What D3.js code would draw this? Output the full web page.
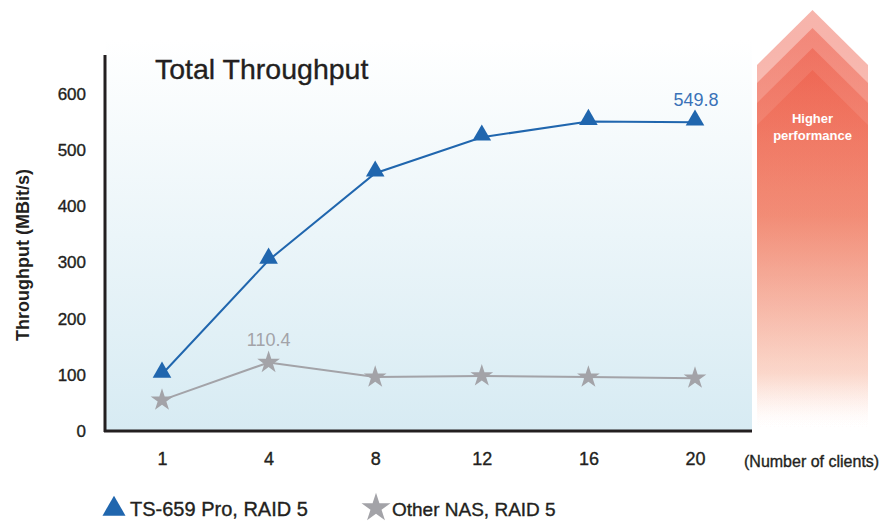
<!DOCTYPE html>
<html lang="en">
<head>
<meta charset="utf-8">
<title>Total Throughput</title>
<script src="https://cdn.jsdelivr.net/npm/d3@7/dist/d3.min.js"></script>
<style>
  body { margin: 0; background: #fff; }
  svg text { font-family: "Liberation Sans", Arial, sans-serif; }
  .heavy { stroke-width: 0.35px; }
</style>
</head>
<body>
<div id="chart"></div>
<script>
// data
var clients = ["1", "4", "8", "12", "16", "20"];
var tsValues = [101, 304, 459, 523, 551, 549.8];
var otherValues = [55, 122, 96, 98, 96, 94];
var yTicks = [0, 100, 200, 300, 400, 500, 600];
var tsPeakLabel = "549.8";
var otherPeakLabel = "110.4";

var width = 883, height = 521;
var ink = "#231f20";
var svg = d3.select("#chart").append("svg")
  .attr("width", width).attr("height", height);

var defs = svg.append("defs");

// plot background gradient
var bg = defs.append("linearGradient").attr("id", "bg")
  .attr("x1", 0).attr("y1", 0).attr("x2", 0).attr("y2", 1);
bg.append("stop").attr("offset", "0%").attr("stop-color", "#ffffff");
bg.append("stop").attr("offset", "100%").attr("stop-color", "#d7ebf3");

// arrow gradient
var ag = defs.append("linearGradient").attr("id", "arrowGrad")
  .attr("gradientUnits", "userSpaceOnUse")
  .attr("x1", 0).attr("y1", 40).attr("x2", 0).attr("y2", 432);
ag.append("stop").attr("offset", "0%").attr("stop-color", "#ec4d38");
ag.append("stop").attr("offset", "45%").attr("stop-color", "#f07e65");
ag.append("stop").attr("offset", "85%").attr("stop-color", "#fad2c4");
ag.append("stop").attr("offset", "100%").attr("stop-color", "#ffffff").attr("stop-opacity", 0);

var x = d3.scalePoint().domain(clients).range([162, 695]);
var y = d3.scaleLinear().domain([0, 600]).range([431, 94]);

// plot area
svg.append("rect")
  .attr("x", 106).attr("y", 40)
  .attr("width", 646).attr("height", 391)
  .attr("fill", "url(#bg)");

// higher performance arrow (stacked chevrons)
var left = 757, right = 868, mid = (left + right) / 2, bottom = 432;
[0, 18, 38, 60].forEach(function (off) {
  var top = 10 + off;
  svg.append("path")
    .attr("d", "M" + left + "," + (top + 55) + "L" + mid + "," + top + "L" + right + "," + (top + 55) +
      "L" + right + "," + bottom + "L" + left + "," + bottom + "Z")
    .attr("fill", "url(#arrowGrad)")
    .attr("opacity", 0.42);
});
svg.append("text").attr("x", mid).attr("y", 123)
  .attr("text-anchor", "middle").attr("fill", "#fff")
  .attr("font-size", 13).attr("font-weight", "bold").text("Higher");
svg.append("text").attr("x", mid).attr("y", 140)
  .attr("text-anchor", "middle").attr("fill", "#fff")
  .attr("font-size", 13).attr("font-weight", "bold").text("performance");

// axes
var yAxis = d3.axisLeft(y).tickValues(yTicks).tickSize(0).tickPadding(20);
var gy = svg.append("g").attr("transform", "translate(106,0)").call(yAxis);
gy.select(".domain").remove();
gy.selectAll("text").attr("font-size", 17).attr("fill", ink)
  .attr("class", "heavy").attr("stroke", ink)
  .style("font-family", "'Liberation Sans', Arial, sans-serif");

var xAxis = d3.axisBottom(x).tickSize(0).tickPadding(21);
var gx = svg.append("g").attr("transform", "translate(0,431)").call(xAxis);
gx.select(".domain").remove();
gx.selectAll("text").attr("font-size", 18).attr("fill", ink)
  .attr("class", "heavy").attr("stroke", ink)
  .style("font-family", "'Liberation Sans', Arial, sans-serif");

svg.append("line").attr("x1", 105).attr("x2", 105).attr("y1", 55).attr("y2", 432)
  .attr("stroke", ink).attr("stroke-width", 3);
svg.append("line").attr("x1", 104).attr("x2", 752).attr("y1", 431).attr("y2", 431)
  .attr("stroke", ink).attr("stroke-width", 3);

// titles
svg.append("text").attr("x", 155).attr("y", 79)
  .attr("font-size", 28.5).attr("fill", ink).attr("class", "heavy").attr("stroke", ink)
  .text("Total Throughput");
svg.append("text")
  .attr("transform", "translate(29,255) rotate(-90)")
  .attr("text-anchor", "middle").attr("font-size", 18).attr("font-weight", "bold")
  .attr("fill", ink).text("Throughput (MBit/s)");
svg.append("text").attr("x", 744).attr("y", 467)
  .attr("font-size", 16).attr("fill", ink).attr("class", "heavy").attr("stroke", ink)
  .text("(Number of clients)");

// series
var line = d3.line().x(function (d, i) { return x(clients[i]); }).y(function (d) { return y(d); });
var blue = "#2066ae", gray = "#a3a3a8";

svg.append("path").datum(otherValues).attr("d", line)
  .attr("fill", "none").attr("stroke", gray).attr("stroke-width", 2);
svg.append("path").datum(tsValues).attr("d", line)
  .attr("fill", "none").attr("stroke", blue).attr("stroke-width", 2);

var tri = d3.symbol().type(d3.symbolTriangle).size(150);
var star = d3.symbol().type(d3.symbolStar).size(160);

svg.selectAll(".star").data(otherValues).enter().append("path")
  .attr("class", "star").attr("d", star).attr("fill", gray)
  .attr("transform", function (d, i) { return "translate(" + x(clients[i]) + "," + y(d) + ")"; });
svg.selectAll(".tri").data(tsValues).enter().append("path")
  .attr("class", "tri").attr("d", tri).attr("fill", blue)
  .attr("transform", function (d, i) { return "translate(" + x(clients[i]) + "," + (y(d) - 2) + ")"; });

// value labels
svg.append("text").attr("x", x("20") + 1).attr("y", y(549.8) - 16)
  .attr("text-anchor", "middle").attr("font-size", 18).attr("fill", "#3a72b8").text(tsPeakLabel);
svg.append("text").attr("x", x("4")).attr("y", y(122) - 16)
  .attr("text-anchor", "middle").attr("font-size", 18).attr("fill", "#a3a3a8").text(otherPeakLabel);

// legend
svg.append("path").attr("d", d3.symbol().type(d3.symbolTriangle).size(230))
  .attr("fill", blue).attr("transform", "translate(114,509)");
svg.append("text").attr("x", 130).attr("y", 516)
  .attr("font-size", 20).attr("fill", ink).attr("class", "heavy").attr("stroke", ink)
  .text("TS-659 Pro, RAID 5");
svg.append("path").attr("d", d3.symbol().type(d3.symbolStar).size(260))
  .attr("fill", gray).attr("transform", "translate(376,508)");
svg.append("text").attr("x", 392).attr("y", 516)
  .attr("font-size", 19).attr("fill", ink).attr("class", "heavy").attr("stroke", ink)
  .text("Other NAS, RAID 5");
</script>
</body>
</html>
